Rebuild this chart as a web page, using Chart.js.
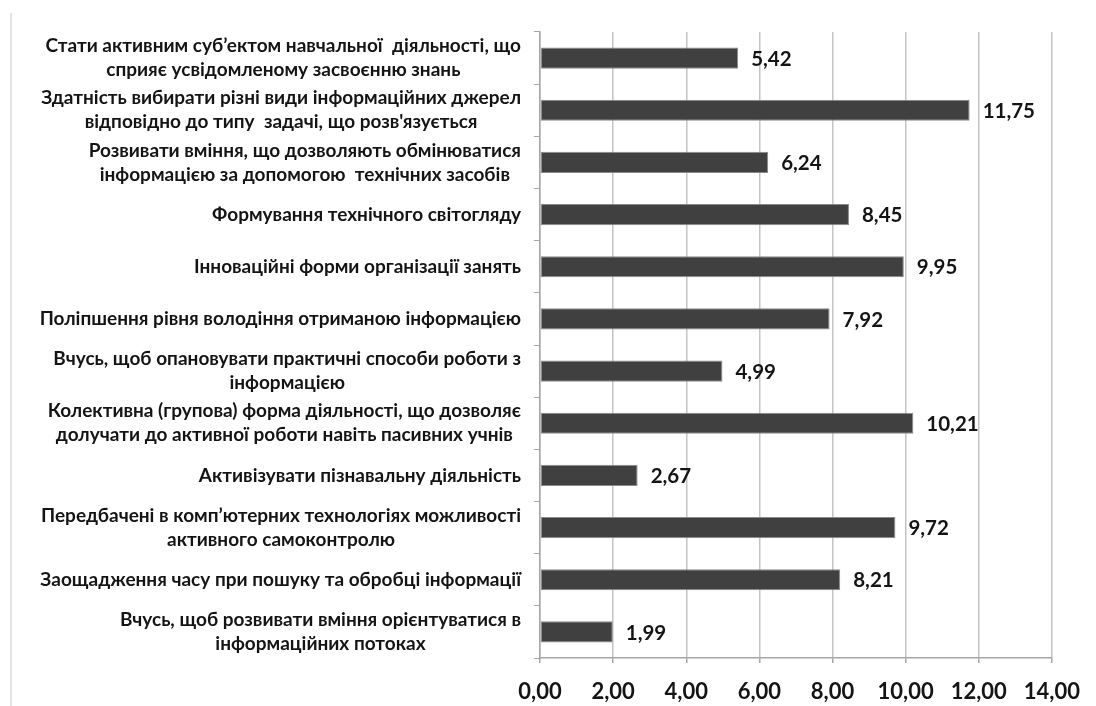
<!DOCTYPE html>
<html>
<head>
<meta charset="utf-8">
<script src="https://cdn.jsdelivr.net/npm/chart.js@4/dist/chart.umd.min.js"></script>
<style>
  html, body { margin: 0; padding: 0; background: #ffffff; }
  #wrap { width: 1096px; height: 706px; position: relative; }
</style>
</head>
<body>
<div id="wrap"><canvas id="c" width="1096" height="706"></canvas></div>
<script>
// ---- data ----
const categories = [
  ["Стати активним суб’ектом навчальної  діяльності, що", "сприяє усвідомленому засвоєнню знань"],
  ["Здатність вибирати різні види інформаційних джерел", "відповідно до типу  задачі, що розв'язується"],
  ["Розвивати вміння, що дозволяють обмінюватися", "інформацією за допомогою  технічних засобів"],
  ["Формування технічного світогляду"],
  ["Інноваційні форми організації занять"],
  ["Поліпшення рівня володіння отриманою інформацією"],
  ["Вчусь, щоб опановувати практичні способи роботи з", "інформацією"],
  ["Колективна (групова) форма діяльності, що дозволяє", "долучати до активної роботи навіть пасивних учнів"],
  ["Активізувати пізнавальну діяльність"],
  ["Передбачені в комп’ютерних технологіях можливості", "активного самоконтролю"],
  ["Заощадження часу при пошуку та обробці інформації"],
  ["Вчусь, щоб розвивати вміння орієнтуватися в", "інформаційних потоках"]
];
const values = [5.42, 11.75, 6.24, 8.45, 9.95, 7.92, 4.99, 10.21, 2.67, 9.72, 8.21, 1.99];
const axisMin = 0;
const axisMax = 14;
const axisStep = 2;

const FONT = "Lato, 'Open Sans', sans-serif";
const fmt = v => Number(v).toFixed(2).replace('.', ',');

const decor = {
  id: 'decor',
  beforeDraw(chart) {
    const ctx = chart.ctx;
    ctx.save();
    ctx.strokeStyle = '#d9d9d9';
    ctx.lineWidth = 1.5;
    ctx.beginPath();
    ctx.moveTo(11, 13);
    ctx.lineTo(11, chart.height);
    ctx.stroke();
    ctx.restore();
  },
  afterDraw(chart) {
    const ctx = chart.ctx;
    const ys = chart.scales.y;
    ctx.save();
    // category labels: block right-aligned, lines centred within block
    ctx.font = "bold 19px " + FONT;
    ctx.fillStyle = '#141414';
    ctx.textAlign = 'center';
    ctx.textBaseline = 'middle';
    const lh = 24;
    const right = ys.right - 19;
    chart.data.labels.forEach((lines, i) => {
      const y = ys.getPixelForTick(i);
      let w = 0;
      lines.forEach(l => { w = Math.max(w, ctx.measureText(l).width); });
      const cx = right - w / 2;
      lines.forEach((l, k) => {
        ctx.fillText(l, cx, y + (k - (lines.length - 1) / 2) * lh);
      });
    });
    // value labels
    ctx.font = "bold 20.5px " + FONT;
    ctx.textAlign = 'left';
    const meta = chart.getDatasetMeta(0);
    meta.data.forEach((el, i) => {
      ctx.fillText(fmt(chart.data.datasets[0].data[i]), el.x + 13, el.y + 1);
    });
    ctx.restore();
  }
};

new Chart(document.getElementById('c'), {
  type: 'bar',
  data: {
    labels: categories,
    datasets: [{
      data: values,
      backgroundColor: '#404040',
      borderColor: '#8a8a8a',
      borderWidth: 1,
      borderSkipped: false,
      categoryPercentage: 0.45,
      barPercentage: 0.9
    }]
  },
  options: {
    indexAxis: 'y',
    responsive: false,
    animation: false,
    devicePixelRatio: 1,
    layout: { padding: { top: 32, right: 43, left: 0, bottom: 0 } },
    plugins: { legend: { display: false }, tooltip: { enabled: false } },
    scales: {
      x: {
        min: axisMin, max: axisMax,
        grid: { color: '#c4c4c4', lineWidth: 1.5, tickLength: 5, tickColor: '#a6a6a6' },
        border: { color: '#a6a6a6', width: 1.5 },
        ticks: {
          stepSize: axisStep,
          color: '#141414',
          font: { family: FONT, size: 22, weight: 'bold' },
          padding: 16,
          callback: v => fmt(v)
        },
        afterFit(s) { s.height = 48; }
      },
      y: {
        offset: true,
        grid: { drawOnChartArea: false, offset: true, tickLength: 6, color: '#a6a6a6' },
        border: { color: '#a6a6a6', width: 1.5 },
        ticks: { display: false },
        afterFit(s) { s.width = 540; }
      }
    }
  },
  plugins: [decor]
});
</script>
</body>
</html>
